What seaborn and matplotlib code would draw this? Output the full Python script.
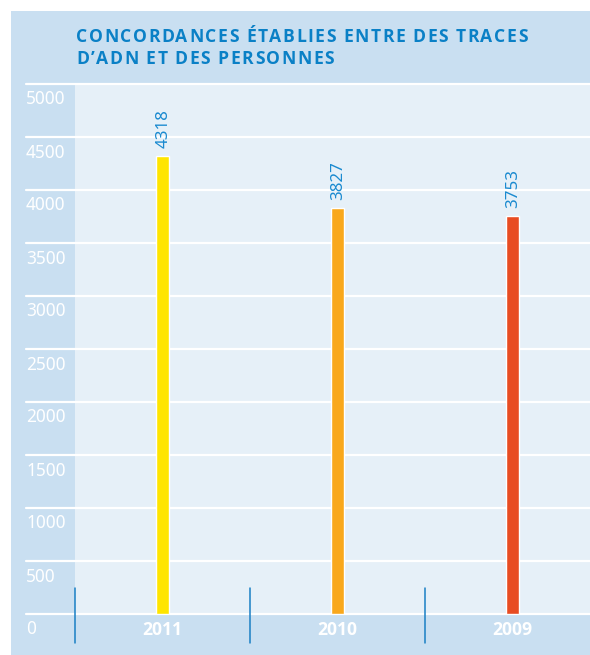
import matplotlib
matplotlib.use("Agg")
import matplotlib.pyplot as plt
import matplotlib.transforms as mtransforms
from matplotlib.patches import Rectangle
import seaborn as sns
import pandas as pd

# ---- data ----
years = ["2011", "2010", "2009"]
values = [4318, 3827, 3753]
bar_colors = ["#ffe500", "#f9a81c", "#e84c22"]
yticks = [0, 500, 1000, 1500, 2000, 2500, 3000, 3500, 4000, 4500, 5000]
title_lines = ["CONCORDANCES ÉTABLIES ENTRE DES TRACES", "D’ADN ET DES PERSONNES"]

OUTER = "#c9dff1"
INNER = "#e6f0f8"
BLUE_TXT = "#0a80c6"
VAL_TXT = "#1a8ad0"
SEP = "#1a7fc4"

sns.set_theme(style="white")
plt.rcParams["font.family"] = ["Open Sans", "DejaVu Sans"]
NUM_FONT = ["Noto Sans", "DejaVu Sans"]

W, H = 590, 655
fig = plt.figure(figsize=(W / 100, H / 100), dpi=100)
fig.patch.set_facecolor("white")

def fx(px):
    return px / W

def fy(py):
    return 1 - py / H

# outer blue panel
fig.patches.append(Rectangle((fx(11), 0), fx(590) - fx(11), fy(11), transform=fig.transFigure,
                             facecolor=OUTER, edgecolor="none", zorder=-5))

ax_left, ax_right, ax_top, ax_bot = 75, 590, 84, 614
ax = fig.add_axes([fx(ax_left), fy(ax_bot), fx(ax_right - ax_left), (ax_bot - ax_top) / H])
ax.set_zorder(2)
ax.set_facecolor(INNER)

df = pd.DataFrame({"year": years, "value": values})
band = 175.0
sns.barplot(data=df, x="year", y="value", hue="year", order=years, hue_order=years,
            palette=bar_colors, saturation=1, width=13 / band, legend=False, ax=ax, zorder=3)

ax.set_ylim(0, 5000)
ax.set_xlim(-0.5, -0.5 + (ax_right - ax_left) / band)
for s in ax.spines.values():
    s.set_visible(False)
ax.set_xlabel("")
ax.set_ylabel("")
ax.set_yticks([])

# x tick labels (years)
ax.tick_params(axis="x", length=0, pad=5.0)
for lab in ax.get_xticklabels():
    lab.set_color("white")
    lab.set_fontweight("bold")
    lab.set_fontsize(12.6)

# gridlines extending into the left strip
axw = ax_right - ax_left
xmin_frac = (26 - ax_left) / axw
for t in yticks:
    ax.axhline(t, xmin=xmin_frac, xmax=1, color="white", lw=1.6, clip_on=False, zorder=1)

# y labels under each gridline in the left strip
blend = mtransforms.blended_transform_factory(ax.transAxes, ax.transData)
lab_tr = mtransforms.offset_copy(blend, fig=fig, x=0, y=-20.5, units="dots")
for t in yticks:
    ax.text(xmin_frac, t, str(t), transform=lab_tr, ha="left", va="baseline",
            color="white", fontsize=12.4, family=NUM_FONT, clip_on=False)

# value labels above bars
val_tr = mtransforms.offset_copy(ax.transData, fig=fig, x=1, y=8, units="dots")
for i, v in enumerate(values):
    ax.text(i, v, str(v), transform=val_tr, rotation=90, ha="center", va="bottom",
            color=VAL_TXT, fontsize=12.2, family=NUM_FONT, zorder=4)

# blue separators in the bottom strip
axh = ax_bot - ax_top
for i in range(len(years)):
    ax.axvline(i - 0.5, ymin=-(643 - ax_bot) / axh, ymax=(ax_bot - 588) / axh,
               color=SEP, lw=1.1, clip_on=False, zorder=5)

# title with letter spacing
renderer = fig.canvas.get_renderer()
fs_title = 12.6
tracking = 1.5  # px between letters
probe = fig.text(0, 0, "n n", fontsize=fs_title, fontweight="bold")
probe2 = fig.text(0, 0, "nn", fontsize=fs_title, fontweight="bold")
space_w = probe.get_window_extent(renderer).width - probe2.get_window_extent(renderer).width
probe.remove()
probe2.remove()
for line, base in zip(title_lines, [42, 64]):
    xpos = 76.0
    for ch in line:
        t = fig.text(fx(xpos), fy(base), ch, color=BLUE_TXT, fontsize=fs_title, fontweight="bold",
                     ha="left", va="baseline")
        w = space_w if ch == " " else t.get_window_extent(renderer).width
        xpos += w + tracking

fig.savefig("out.png", dpi=100, facecolor=fig.get_facecolor())
